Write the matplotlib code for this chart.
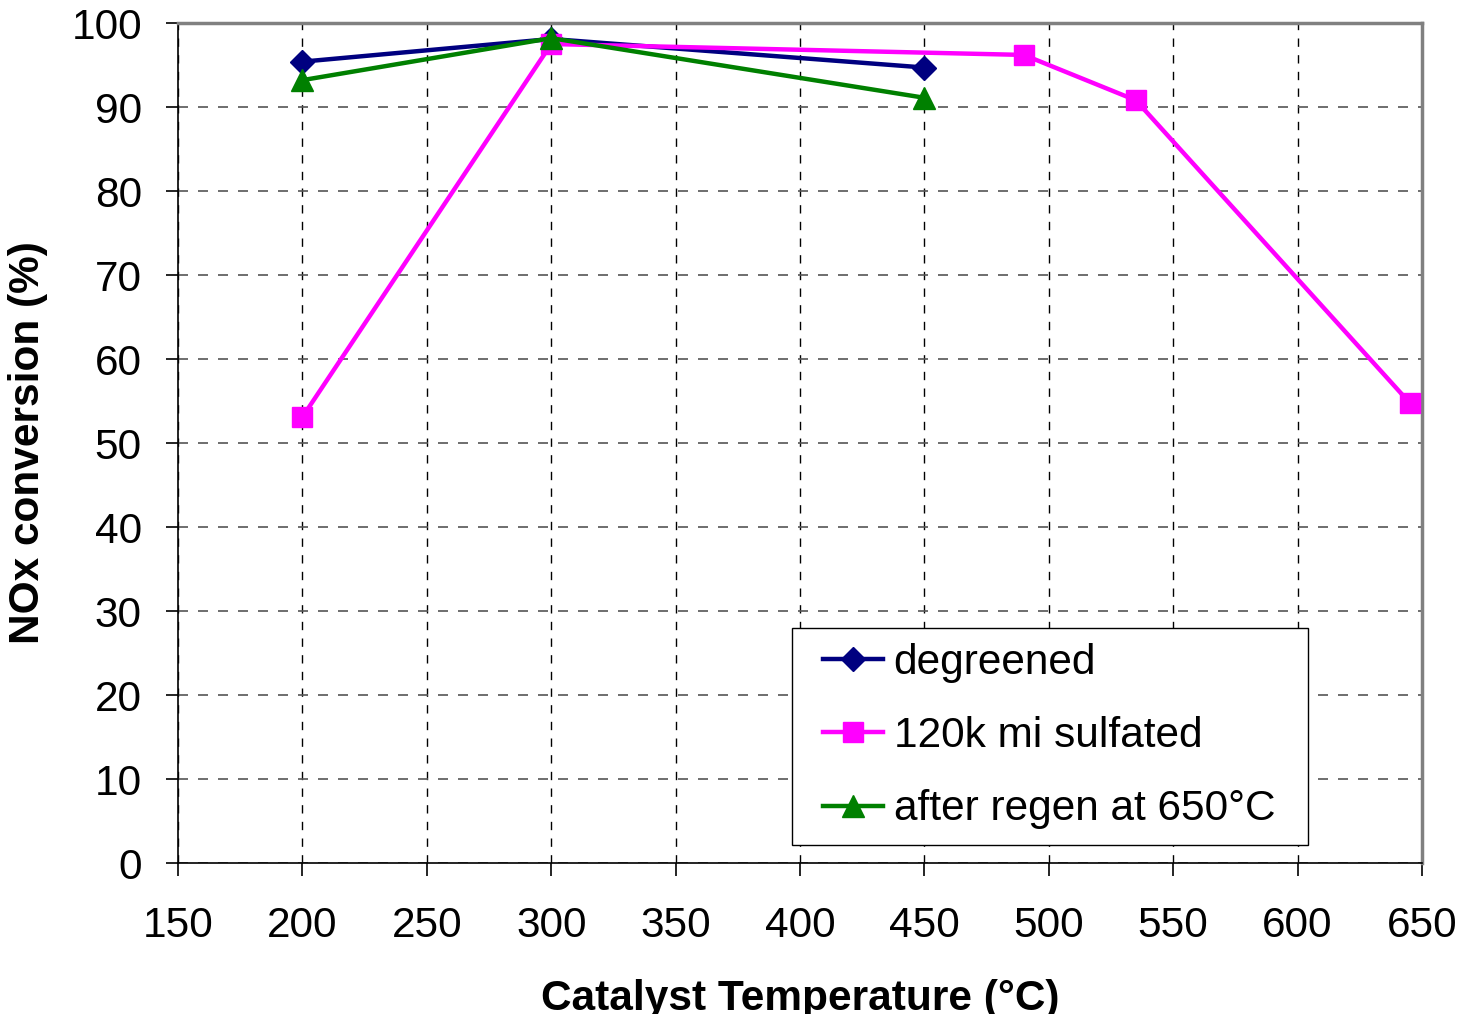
import matplotlib.pyplot as plt
from matplotlib.legend_handler import HandlerLine2D

plt.rcParams['font.family'] = ['Liberation Sans', 'DejaVu Sans']

# data
temp_degreened = [200, 300, 450]
nox_degreened = [95.4, 98.1, 94.7]

temp_sulfated = [200, 300, 490, 535, 645]
nox_sulfated = [53.1, 97.5, 96.2, 90.8, 54.8]

temp_regen = [200, 300, 450]
nox_regen = [93.2, 98.2, 91.1]

x_ticks = [150, 200, 250, 300, 350, 400, 450, 500, 550, 600, 650]
y_ticks = [0, 10, 20, 30, 40, 50, 60, 70, 80, 90, 100]

fs = 30.5

fig = plt.figure(figsize=(14.64, 10.14), dpi=100)
ax = fig.add_axes([0.1216, 0.1489, 0.8497, 0.8284])

ax.plot(temp_degreened, nox_degreened, color='#000080', lw=3.2, marker='D',
        ms=12, label='degreened', zorder=3)
ax.plot(temp_sulfated, nox_sulfated, color='#FF00FF', lw=3.2, marker='s',
        ms=15, label='120k mi sulfated', zorder=3)
ax.plot(temp_regen, nox_regen, color='#008000', lw=3.2, marker='^',
        ms=16, label='after regen at 650°C', zorder=4)

ax.set_xlim(150, 650)
ax.set_ylim(0, 100)
ax.set_xticks(x_ticks)
ax.set_yticks(y_ticks)
ax.tick_params(labelsize=fs, length=9, width=1.2, direction='out')
ax.tick_params(axis='x', pad=22)
ax.tick_params(axis='y', pad=17)

ax.xaxis.grid(True, color='black', ls=(0, (6, 6)), lw=1)
ax.yaxis.grid(True, color='#555555', ls=(0, (6, 6)), lw=1.2)

for s in ['top', 'right']:
    ax.spines[s].set_color('#808080')
    ax.spines[s].set_linewidth(2.5)
for s in ['left', 'bottom']:
    ax.spines[s].set_color('black')
    ax.spines[s].set_linewidth(1.2)

ax.set_xlabel('Catalyst Temperature (°C)', fontsize=fs, fontweight='bold', labelpad=24)
ax.set_ylabel('NOx conversion (%)', fontsize=fs, fontweight='bold', labelpad=17)

leg = ax.legend(loc='lower left', bbox_to_anchor=(0.4936, 0.0214, 0.4148, 0.2572),
                mode='expand', fontsize=fs, frameon=True, fancybox=False,
                edgecolor='black', framealpha=1, handlelength=1.77,
                handletextpad=0.26, labelspacing=0.78, borderpad=0.37,
                borderaxespad=0,
                handler_map={plt.Line2D: HandlerLine2D(xpad=0.35)})
leg.get_frame().set_linewidth(1)

fig.savefig('out.png', dpi=100)
